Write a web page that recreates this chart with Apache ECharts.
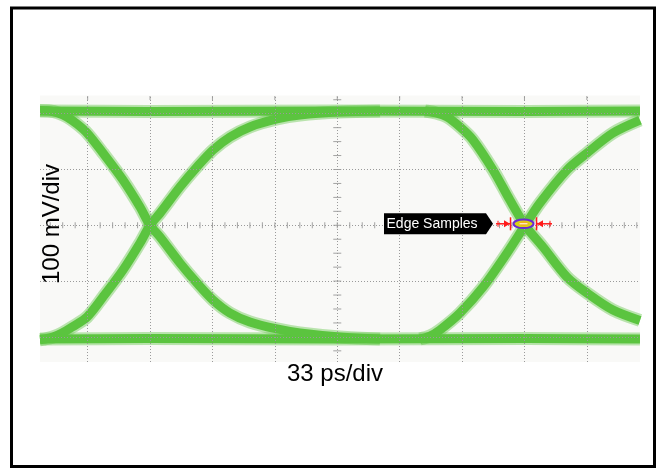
<!DOCTYPE html>
<html>
<head>
<meta charset="utf-8">
<script src="https://cdn.jsdelivr.net/npm/echarts@6/dist/echarts.min.js"></script>
<style>
html,body{margin:0;padding:0;background:#ffffff;}
#c{width:662px;height:475px;}
</style>
</head>
<body>
<div id="c"></div>
<script>
// ---- axis / grid definitions (ps horizontally, mV vertically) ----
const xRange = [-157.2, 160.1];
const yRange = [-245, 232.6];
const xGrid = [-132, -99, -66, -33, 0, 33, 66, 99, 132];      // 33 ps/div
const yGrid = [-200, -100, 0, 100, 200];                       // 100 mV/div
const xTitle = '33 ps/div';
const yTitle = '100 mV/div';
const markerLabel = 'Edge Samples';
const edgeSample = [99.3, 0];

// ---- eye diagram traces: [ps, mV] ----
const topLevel = [[-157.2, 205], [-100, 204], [0, 205], [100, 204], [160.1, 205]];
const bottomLevel = [[-157.2, -204], [-100, -203], [0, -204], [100, -203], [160.1, -204]];
const fallLeft = [
  [-157.2, 205.5], [-151.9, 204.8], [-147.7, 201.3], [-142.9, 194.1], [-137.6, 181.5], [-132.3, 165.4],
  [-123.9, 129.6], [-113.3, 81.2], [-104.3, 32.8], [-99.0, 0], [-93.7, -21.0], [-83.2, -67.6],
  [-74.2, -103.4], [-65.7, -134.0], [-56.7, -157.2], [-46.2, -173.3], [-31.9, -185.8],
  [-19.7, -193.0], [1.4, -200.2], [22.6, -203.8]
];
const riseLeft = [
  [-157.2, -205], [-154.6, -203.8], [-150.3, -200.2], [-145.5, -193.0], [-140.2, -182.3], [-132.3, -164.3],
  [-123.9, -128.5], [-113.3, -80.1], [-104.3, -31.7], [-99.0, 0], [-93.7, 21.8], [-83.2, 68.6],
  [-74.2, 104.5], [-65.7, 134.9], [-56.7, 158.2], [-46.2, 176.2], [-31.9, 190.5],
  [-19.7, 197.7], [1.4, 203.1], [22.6, 204.8]
];
const fallRight = [
  [46.4, 204.8], [52.2, 201.3], [58.0, 194.1], [64.9, 176.2], [71.8, 152.9], [82.4, 99.1],
  [91.3, 45.3], [99.3, 0], [108.8, -38.9], [121.5, -92.7], [132.1, -121.3], [145.8, -151.8],
  [160.1, -170.5]
];
const riseRight = [
  [43.7, -203.8], [49.0, -198.4], [54.3, -187.6], [64.9, -157.2], [77.1, -110.6], [89.8, -49.6],
  [99.3, 0], [107.2, 40.0], [121.5, 99.1], [132.1, 129.6], [145.8, 165.4], [160.1, 188.5]
];
const traces = [topLevel, bottomLevel, fallLeft, riseLeft, fallRight, riseRight];

// ---- minor tick marks along the centre axes (decoration) ----
const xMinorStep = 6.6, yMinorStep = 25;
const xMinor = [], yMinor = [];
for (let i = -23; i <= 24; i++) xMinor.push([i * xMinorStep, 0]);
for (let j = -9; j <= 9; j++) yMinor.push([0, j * yMinorStep]);
const topMarks = xGrid.map(v => [v, 228]);

const GREEN = '#5bc43f';
const FONT = 'Liberation Sans, Arial, sans-serif';

const chart = echarts.init(document.getElementById('c'), null, {renderer: 'canvas'});

const series = [];
series.push({
  type: 'line', data: [], silent: true, z: 1,
  markLine: {
    silent: true, symbol: 'none', animation: false,
    label: {show: false},
    lineStyle: {type: [1, 2], color: '#9a9a9a', width: 1},
    data: xGrid.map(v => ({xAxis: v})).concat(yGrid.map(v => ({yAxis: v})))
  }
});
series.push({
  type: 'scatter', data: xMinor, symbol: 'rect', symbolSize: [1, 6], z: 2, silent: true,
  itemStyle: {color: '#8c8c8c'}
});
series.push({
  type: 'scatter', data: yMinor, symbol: 'rect', symbolSize: [8, 1], z: 2, silent: true,
  itemStyle: {color: '#8c8c8c'}
});
series.push({
  type: 'scatter', data: topMarks, symbol: 'rect', symbolSize: [1, 4], z: 2, silent: true,
  itemStyle: {color: '#8c8c8c'}
});
traces.forEach(t => {
  series.push({
    type: 'line', data: t, symbol: 'none', smooth: 0.3, z: 3, silent: true,
    lineStyle: {color: GREEN, width: 13, opacity: 0.4, cap: 'butt', join: 'round'}
  });
});
traces.forEach(t => {
  series.push({
    type: 'line', data: t, symbol: 'none', smooth: 0.3, z: 4, silent: true,
    lineStyle: {color: GREEN, width: 9, cap: 'butt', join: 'round'}
  });
});

chart.setOption({
  animation: false,
  backgroundColor: '#ffffff',
  textStyle: {fontFamily: FONT},
  grid: {left: 40, right: 22, top: 95.5, bottom: 113, show: true, backgroundColor: '#f9f9f7', borderWidth: 0},
  xAxis: {
    type: 'value', min: xRange[0], max: xRange[1],
    axisLine: {show: false}, axisTick: {show: false}, axisLabel: {show: false}, splitLine: {show: false}
  },
  yAxis: {
    type: 'value', min: yRange[0], max: yRange[1],
    axisLine: {show: false}, axisTick: {show: false}, axisLabel: {show: false}, splitLine: {show: false}
  },
  series: series
});

const p = chart.convertToPixel({gridIndex: 0}, edgeSample);
const cx = p[0], cy = p[1];
const ty = cy - 1.5;
const RED = '#ff1a1a';
const graphics = [
  {type: 'rect', shape: {x: 11.5, y: 8, width: 643, height: 458.5},
   style: {fill: null, stroke: '#000', lineWidth: 3}, z: 100},
  {type: 'text', x: 52.5, y: 224, rotation: Math.PI / 2, z: 100,
   style: {text: yTitle, font: '24px ' + FONT, fill: '#000', textAlign: 'center', textVerticalAlign: 'middle'}},
  {type: 'text', x: 335, y: 374, z: 100,
   style: {text: xTitle, font: '24px ' + FONT, fill: '#000', textAlign: 'center', textVerticalAlign: 'middle'}},
  {type: 'polygon', z: 100,
   shape: {points: [[cx - 141, ty - 10.5], [cx - 39, ty - 10.5], [cx - 32, ty], [cx - 39, ty + 10.5], [cx - 141, ty + 10.5]]},
   style: {fill: '#000'}},
  {type: 'text', x: cx - 138.5, y: ty + 0.5, z: 101,
   style: {text: markerLabel, font: '14px ' + FONT, fill: '#fff', textAlign: 'left', textVerticalAlign: 'middle'}},
  {type: 'line', z: 101, shape: {x1: cx - 29, y1: ty, x2: cx - 15, y2: ty}, style: {stroke: RED, lineWidth: 1.5}},
  {type: 'line', z: 101, shape: {x1: cx - 14.5, y1: ty - 6.5, x2: cx - 14.5, y2: ty + 6.5}, style: {stroke: RED, lineWidth: 1.5}},
  {type: 'polygon', z: 101, shape: {points: [[cx - 15, ty], [cx - 21, ty - 3.5], [cx - 21, ty + 3.5]]}, style: {fill: RED}},
  {type: 'line', z: 101, shape: {x1: cx - 27, y1: ty - 3, x2: cx - 27, y2: ty + 3}, style: {stroke: RED, lineWidth: 1}},
  {type: 'line', z: 101, shape: {x1: cx + 12, y1: ty, x2: cx + 27, y2: ty}, style: {stroke: RED, lineWidth: 1.5}},
  {type: 'line', z: 101, shape: {x1: cx + 11.5, y1: ty - 6.5, x2: cx + 11.5, y2: ty + 6.5}, style: {stroke: RED, lineWidth: 1.5}},
  {type: 'polygon', z: 101, shape: {points: [[cx + 12, ty], [cx + 18, ty - 3.5], [cx + 18, ty + 3.5]]}, style: {fill: RED}},
  {type: 'line', z: 101, shape: {x1: cx + 25, y1: ty - 3, x2: cx + 25, y2: ty + 3}, style: {stroke: RED, lineWidth: 1}},
  {type: 'ellipse', z: 102, shape: {cx: cx - 1.5, cy: ty, rx: 10, ry: 4.3},
   style: {fill: '#d9d414', stroke: '#6a2bd0', lineWidth: 2}},
  {type: 'ellipse', z: 103, shape: {cx: cx - 1.5, cy: ty, rx: 5, ry: 2.2},
   style: {fill: '#f0b020'}},
  {type: 'line', z: 104, shape: {x1: cx - 5.5, y1: ty, x2: cx + 2.5, y2: ty}, style: {stroke: '#ffffff', lineWidth: 1}}
];
chart.setOption({graphic: graphics});
</script>
</body>
</html>
